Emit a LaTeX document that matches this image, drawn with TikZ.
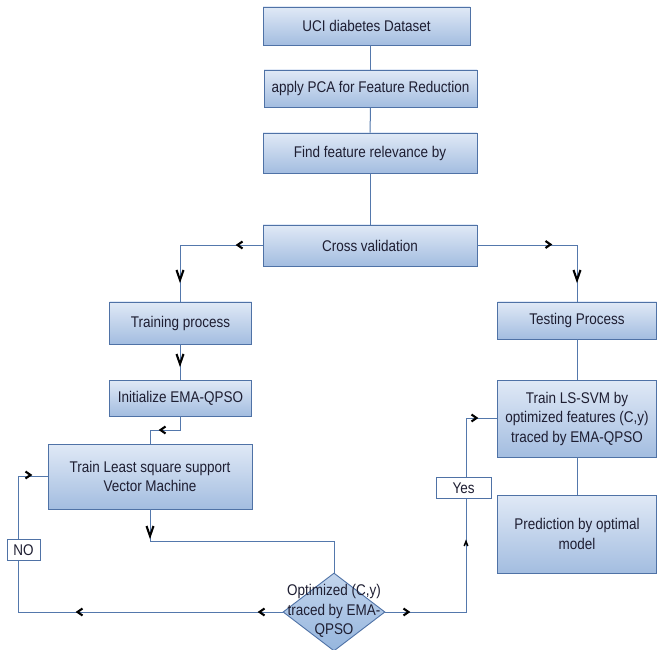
\documentclass[tikz,border=0pt]{standalone}
\usepackage{fontspec}
\setmainfont{Liberation Sans}[FakeStretch=0.87]
\usetikzlibrary{shapes.geometric,calc}
\definecolor{boxline}{RGB}{79,114,166}
\definecolor{boxtop}{RGB}{224,233,246}
\definecolor{boxbot}{RGB}{163,189,224}
\definecolor{conn}{RGB}{84,120,172}
\definecolor{txt}{RGB}{30,30,50}
\definecolor{diafill}{RGB}{150,182,222}
\tikzset{
  x=1pt, y=-1pt,
  every node/.style={font=\fontsize{15.5}{19.5}\selectfont, text=txt},
  proc/.style={draw=boxline, line width=0.9pt, top color=boxtop, bottom color=boxbot,
    shading angle=0, inner sep=2pt, align=center},
  tag/.style={draw=boxline, line width=0.9pt, fill=white, inner sep=0pt, align=center},
  link/.style={draw=conn, line width=1pt},
  chevstyle/.style={draw=black, line width=2.1pt},
  chevR/.pic={\draw[chevstyle] (-2.5,-3.5) -- (2.5,0) -- (-2.5,3.5);},
  chevL/.pic={\draw[chevstyle] (2.5,-3.5) -- (-2.5,0) -- (2.5,3.5);},
  chevD/.pic={\draw[chevstyle] (-3.5,-5) -- (0,5) -- (3.5,-5);},
  chevU/.pic={\draw[black, line width=1.5pt] (-1.8,2) -- (0,-2.5) -- (1.8,2);},
}
\begin{document}
\begin{tikzpicture}
\useasboundingbox (0,0) rectangle (657,650);
\fill[white] (0,0) rectangle (657,650);

% process boxes
\node[proc, minimum width=207pt, minimum height=38pt] (uci) at (366.5,26) {UCI diabetes Dataset};
\node[proc, minimum width=213pt, minimum height=37pt] (pca) at (370.5,88.5) {apply PCA for Feature Reduction};
\node[proc, minimum width=214pt, minimum height=40pt] (find) at (370,153) {Find feature relevance by};
\node[proc, minimum width=214pt, minimum height=41pt] (cv) at (370,245.5) {Cross validation};
\node[proc, minimum width=142pt, minimum height=42pt] (train) at (180.5,323) {Training process};
\node[proc, minimum width=142pt, minimum height=36pt] (init) at (180.5,398) {Initialize EMA-QPSO};
\node[proc, minimum width=204pt, minimum height=65pt] (tlsq) at (150,476.5) {Train Least square support\\Vector Machine};
\node[proc, minimum width=159pt, minimum height=37pt] (test) at (577,320.5) {Testing Process};
\node[proc, minimum width=159pt, minimum height=77pt] (lssvm) at (577,418.5) {Train LS-SVM by\\optimized features (C,y)\\traced by EMA-QPSO};
\node[proc, minimum width=159pt, minimum height=78pt] (pred) at (577,534) {Prediction by optimal\\model};

% decision
\node[diamond, draw=boxline, line width=0.9pt, top color=boxtop!60!diafill, bottom color=diafill,
  minimum width=102pt, minimum height=78pt, inner sep=0pt] (dia) at (334,612) {};
\node[align=center, inner sep=0pt] (dtext) at (334,611) {\fontsize{15.5}{21}\selectfont Optimized (C,y)\\traced by EMA-\\QPSO};

% free corner points
\coordinate (nocorner) at (18,612);
\coordinate (yescorner) at (466,612);

% connectors
\draw[link] (uci.south -| pca.north) -- (pca.north);
\draw[link] (pca) -- (find);
\draw[link] (find) -- (cv);
\draw[link] (cv.west) -| (train.north);
\draw[link] (cv.east) -| (test.north);
\draw[link] (train) -- (init);
\draw[link] (init.south) -- ($(init.south)+(0,14)$) -| (tlsq.north);
\draw[link] (tlsq.south) -- ($(tlsq.south)+(0,32)$) -| (dia.north);
\draw[link] (dia.west) -- (nocorner) |- (tlsq.west);
\draw[link] (dia.east) -- (yescorner) |- (lssvm.west);
\draw[link] (test) -- (lssvm);
\draw[link] (lssvm) -- (pred);

% labels on the loop lines
\node[tag, minimum width=33pt, minimum height=21pt] (no) at (23.5,550) {NO};
\node[tag, minimum width=55pt, minimum height=21pt] (yes) at (463.5,488) {Yes};

% chevron marks
\pic at (240,245) {chevL};
\pic at (180,275) {chevD};
\pic at (548,244.5) {chevR};
\pic at (577,275) {chevD};
\pic at (180,359) {chevD};
\pic at (163,430) {chevL};
\pic at (28,475) {chevR};
\pic at (150,531) {chevD};
\pic at (80,612) {chevL};
\pic at (262,612) {chevL};
\pic at (406,612) {chevR};
\pic at (466,544) {chevU};
\pic at (474,418) {chevR};
\end{tikzpicture}
\end{document}
